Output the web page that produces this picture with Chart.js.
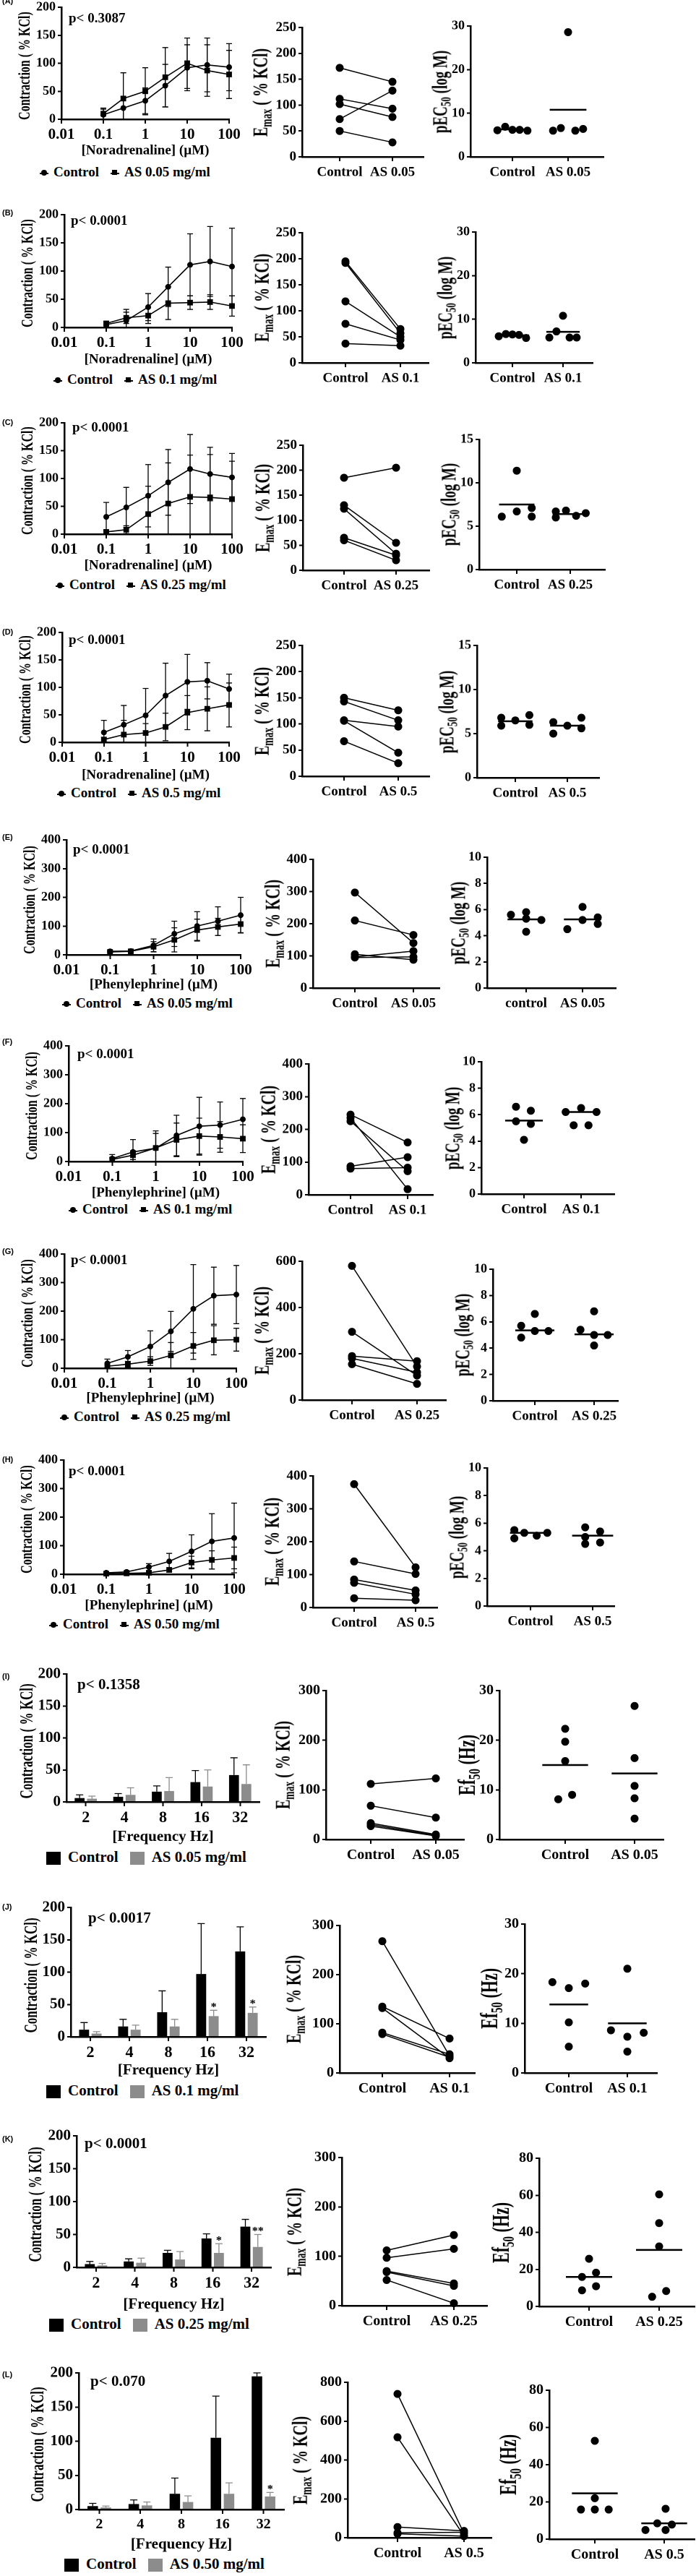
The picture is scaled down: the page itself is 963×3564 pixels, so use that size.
<!DOCTYPE html>
<html>
<head>
<meta charset="utf-8">
<title>Contraction, Emax and pEC50 / Ef50 panels</title>
<script src="https://cdn.jsdelivr.net/npm/chart.js@4.4.1/dist/chart.umd.min.js"></script>
<style>
  html, body { margin: 0; padding: 0; background: #fff; }
  #fig { position: relative; width: 963px; height: 3564px; overflow: hidden;
         font-family: "Liberation Serif", "Times New Roman", serif; font-weight: bold; color: #000; }
  .pan { position: absolute; }
  .txt { position: absolute; white-space: nowrap; line-height: 20px; }
  .ytl { position: absolute; white-space: nowrap; line-height: 1;
         transform: translate(-50%, -50%) rotate(-90deg) scale(1, 1.5); }
  .ytl sub { font-size: 0.68em; vertical-align: -0.3em; }
  .tag { position: absolute; font-family: "Liberation Sans", Arial, sans-serif; font-size: 11px; font-weight: bold; line-height: 12px; }
  .mk { display: inline-block; position: relative; width: 12px; height: 2px; background: #000; vertical-align: middle; margin-right: 7px; }
  .mk::after { content: ''; position: absolute; background: #000; left: 2px; top: -4px; width: 8px; height: 8px; }
  .mc::after { border-radius: 50%; }
  .ms::after { left: 2.5px; top: -3.5px; width: 7px; height: 7px; }
  .sw { display: inline-block; width: 20px; height: 18px; vertical-align: middle; margin-right: 10px; }
  .gap { display: inline-block; width: 16px; }
</style>
</head>
<body>
<div id="fig"></div>
<script>
// shared categories
const doses = [0.1, 0.3, 1, 3, 10, 30, 100];
const doseTicks = [0.01, 0.1, 1, 10, 100];
const freqs = ['2', '4', '8', '16', '32'];

// (A) noradrenaline, AS 0.05
const ctrlA = [8, 20, 33, 60, 92, 97, 93];
const ctrlSdA = [10, 20, 23, 38, 41, 48, 42];
const asA = [10, 37, 50, 75, 100, 87, 80];
const asSdA = [10, 46, 42, 53, 45, 46, 43];
const emaxCtrlA = [172, 112, 102, 73, 50];
const emaxAsA = [145, 93, 77, 128, 28];
const pecCtrlA = [6.1, 6.9, 6.2, 6.2, 6.0];
const pecAsA = [6.0, 6.6, 28.6, 6.0, 6.4];
const pecMeanA = [6.3, 10.8];

// (B) noradrenaline, AS 0.1
const ctrlB = [5, 12, 36, 72, 111, 117, 108];
const ctrlSdB = [4, 20, 24, 35, 55, 62, 68];
const asB = [7, 17, 21, 43, 44, 45, 38];
const asSdB = [4, 10, 14, 29, 12, 13, 18];
const emaxCtrlB = [195, 192, 118, 75, 37];
const emaxAsB = [65, 57, 50, 44, 33];
const pecCtrlB = [6.1, 6.6, 6.5, 6.4, 5.7];
const pecAsB = [5.8, 7.2, 10.8, 5.8, 5.8];
const pecMeanB = [6.3, 7.1];

// (C) noradrenaline, AS 0.25
const ctrlC = [31, 48, 69, 93, 117, 108, 102];
const ctrlSdC = [26, 36, 56, 59, 62, 48, 43];
const asC = [4, 8, 36, 55, 67, 66, 63];
const asSdC = [3, 7, 50, 73, 75, 77, 68];
const emaxCtrlC = [185, 130, 123, 65, 60];
const emaxAsC = [205, 55, 33, 30, 20];
const pecCtrlC = [6.1, 11.4, 6.7, 7.1, 6.1];
const pecAsC = [6.0, 6.7, 6.8, 6.2, 6.5];
const pecMeanC = [7.5, 6.4];

// (D) noradrenaline, AS 0.5
const ctrlD = [18, 32, 49, 85, 110, 112, 97];
const ctrlSdD = [22, 35, 49, 59, 50, 33, 27];
const asD = [5, 14, 17, 28, 54, 61, 68];
const asSdD = [4, 26, 17, 25, 31, 40, 40];
const emaxCtrlD = [150, 143, 107, 106, 67];
const emaxAsD = [126, 107, 95, 45, 25];
const pecCtrlD = [5.9, 6.8, 6.5, 7.1, 6.0];
const pecAsD = [5.0, 6.3, 5.9, 6.8, 5.6];
const pecMeanD = [6.4, 5.9];

// (E) phenylephrine, AS 0.05
const ctrlE = [12, 13, 33, 73, 100, 117, 138];
const ctrlSdE = [4, 5, 22, 44, 50, 50, 62];
const asE = [10, 12, 28, 52, 86, 97, 107];
const asSdE = [3, 4, 18, 42, 38, 30, 30];
const emaxCtrlE = [297, 210, 105, 97, 95];
const emaxAsE = [140, 165, 88, 115, 97];
const pecCtrlE = [5.6, 5.8, 5.3, 4.3, 5.2];
const pecAsE = [4.5, 6.2, 5.2, 5.4, 4.9];
const pecMeanE = [5.25, 5.25];

// (F) phenylephrine, AS 0.1
const ctrlF = [10, 33, 46, 90, 122, 126, 146];
const ctrlSdF = [14, 43, 60, 70, 100, 80, 72];
const asF = [7, 22, 47, 75, 88, 85, 79];
const asSdF = [6, 15, 50, 58, 62, 53, 48];
const emaxCtrlF = [245, 235, 225, 87, 80];
const emaxAsF = [160, 17, 72, 115, 83];
const pecCtrlF = [6.6, 5.5, 4.1, 6.3, 5.3];
const pecAsF = [6.2, 5.2, 6.5, 5.2, 6.2];
const pecMeanF = [5.55, 6.2];

// (G) phenylephrine, AS 0.25
const ctrlG = [17, 40, 76, 129, 208, 254, 258];
const ctrlSdG = [15, 22, 55, 70, 155, 100, 102];
const asG = [7, 14, 25, 45, 78, 98, 100];
const asSdG = [5, 10, 15, 45, 47, 51, 40];
const emaxCtrlG = [580, 295, 190, 180, 155];
const emaxAsG = [145, 106, 168, 120, 70];
const pecCtrlG = [5.7, 4.8, 6.6, 5.3, 5.3];
const pecAsG = [5.4, 6.8, 5.0, 4.2, 5.0];
const pecMeanG = [5.35, 5.05];

// (H) phenylephrine, AS 0.5
const ctrlH = [5, 8, 25, 45, 80, 115, 127];
const ctrlSdH = [3, 5, 12, 28, 58, 97, 122];
const asH = [2, 3, 5, 15, 41, 50, 57];
const asSdH = [2, 2, 3, 8, 22, 32, 38];
const emaxCtrlH = [375, 140, 85, 75, 28];
const emaxAsH = [122, 102, 52, 40, 22];
const pecCtrlH = [5.5, 4.9, 5.3, 5.1, 5.3];
const pecAsH = [5.7, 5.0, 4.5, 5.4, 4.6];
const pecMeanH = [5.3, 5.1];

// (I) electrical field stimulation, AS 0.05
const barCtrlI = [6, 8, 16, 31, 42];
const barCtrlSdI = [5, 5, 9, 18, 27];
const barAsI = [5, 11, 17, 24, 28];
const barAsSdI = [4, 11, 21, 26, 30];
const emaxCtrlI = [112, 68, 33, 30, 27];
const emaxAsI = [123, 44, 10, 8, 7];
const efCtrlI = [8.1, 22.3, 19.7, 15.8, 9.0];
const efAsI = [26.9, 16.4, 10.8, 8.3, 4.2];
const efMeanI = [15.0, 13.3];

// (J) AS 0.1
const barCtrlJ = [11, 16, 38, 97, 132];
const barCtrlSdJ = [11, 11, 33, 78, 38];
const barAsJ = [5, 11, 16, 32, 37];
const barAsSdJ = [3, 7, 11, 9, 9];
const starsJ = ['', '', '', '*', '*'];
const emaxCtrlJ = [268, 135, 132, 82, 79];
const emaxAsJ = [35, 70, 30, 38, 32];
const efCtrlJ = [18.3, 17.1, 10.2, 5.3, 18.0];
const efAsJ = [8.6, 21.0, 7.3, 4.3, 8.1];
const efMeanJ = [13.8, 10.0];

// (K) AS 0.25
const barCtrlK = [5, 9, 22, 44, 62];
const barCtrlSdK = [4, 4, 4, 7, 11];
const barAsK = [3, 7, 12, 22, 31];
const barAsSdK = [3, 7, 12, 14, 19];
const starsK = ['', '', '', '*', '**'];
const emaxCtrlK = [112, 97, 70, 68, 52];
const emaxAsK = [143, 115, 45, 40, 5];
const efCtrlK = [15.9, 8.7, 25.7, 18.2, 10.9];
const efAsK = [5.2, 60.5, 45.0, 32.4, 8.3];
const efMeanK = [15.9, 30.5];

// (L) AS 0.5
const barCtrlL = [5, 8, 23, 105, 195];
const barCtrlSdL = [4, 6, 23, 61, 5];
const barAsL = [3, 6, 11, 23, 19];
const barAsSdL = [2, 5, 9, 16, 6];
const starsL = ['', '', '', '', '*'];
const emaxCtrlL = [740, 517, 55, 25, 20];
const emaxAsL = [22, 10, 35, 28, 8];
const efCtrlL = [15.9, 52.8, 22.0, 15.9, 15.9];
const efAsL = [4.9, 8.5, 16.3, 4.9, 7.8];
const efMeanL = [24.6, 8.5];

Chart.defaults.font.family = '"Liberation Serif", "Times New Roman", serif';
Chart.defaults.font.weight = 'bold';
Chart.defaults.color = '#000';

// whiskers (and significance stars) drawn from each dataset's `errors` list
const errorBars = {
  id: 'errorBars',
  afterDatasetsDraw(chart) {
    const ctx = chart.ctx;
    const ys = chart.scales.y;
    chart.data.datasets.forEach((ds, i) => {
      if (!ds.errors) return;
      const meta = chart.getDatasetMeta(i);
      ctx.save();
      ctx.strokeStyle = ds.errorColor || '#000';
      ctx.lineWidth = 1.3;
      meta.data.forEach((el, j) => {
        const raw = ds.data[j];
        const v = typeof raw === 'object' ? raw.y : raw;
        const e = ds.errors[j];
        const x = el.x;
        const hi = ys.getPixelForValue(v + e);
        const lo = ds.upOnly ? el.y : ys.getPixelForValue(Math.max(v - e, 0));
        const cap = ds.cap || 4;
        ctx.beginPath();
        ctx.moveTo(x, hi); ctx.lineTo(x, lo);
        ctx.moveTo(x - cap, hi); ctx.lineTo(x + cap, hi);
        if (!ds.upOnly && v - e > 0) { ctx.moveTo(x - cap, lo); ctx.lineTo(x + cap, lo); }
        ctx.stroke();
        if (ds.marks && ds.marks[j]) {
          ctx.fillStyle = '#000';
          ctx.font = 'bold 16px "Liberation Serif"';
          ctx.textAlign = 'center';
          ctx.textBaseline = 'bottom';
          ctx.fillText(ds.marks[j], x, hi + 4);
        }
      });
      ctx.restore();
    });
  }
};
Chart.register(errorBars);

const fig = document.getElementById('fig');
const axisLine = { color: '#000', width: 2.5 };
const P5 = [-0.27, -0.13, 0, 0.13, 0.27];
const P3 = [-0.27, -0.27, 0, 0.27, 0.27];

function tickGrid(len) {
  return { drawOnChartArea: false, drawTicks: true, tickLength: len, color: '#000', lineWidth: 2 };
}
function fitX(h) {
  return (s) => { s.height = h; s.paddingLeft = 0; s.paddingRight = 0; };
}
function fitY(w) {
  return (s) => { s.width = w; s.paddingTop = 0; s.paddingBottom = 0; };
}

// canvas whose chart area lands exactly on the axis box g (page pixels)
function addCanvas(g, yW, padT, padR, xH) {
  const w = Math.round(g.ex - g.ax + yW + padR);
  const h = Math.round(g.zero - g.top + padT + xH);
  const box = document.createElement('div');
  box.className = 'pan';
  box.style.left = (g.ax - yW) + 'px';
  box.style.top = (g.top - padT) + 'px';
  const cv = document.createElement('canvas');
  cv.width = w;
  cv.height = h;
  box.appendChild(cv);
  fig.appendChild(box);
  return cv;
}

function baseOptions(scales, padT, padR) {
  return {
    responsive: false,
    animation: false,
    devicePixelRatio: 2,
    events: [],
    layout: { padding: { top: padT, right: padR, bottom: 0, left: 0 } },
    plugins: { legend: { display: false }, tooltip: { enabled: false } },
    scales
  };
}

function yScale(max, step, yW, size) {
  return {
    min: 0,
    max,
    ticks: { stepSize: step, padding: 3, font: { size } },
    grid: tickGrid(5),
    border: axisLine,
    afterFit: fitY(yW)
  };
}

function pairX(g, labels, size) {
  const u = g.c2 - g.c1;
  return {
    type: 'linear',
    min: 1 - (g.c1 - g.ax) / u,
    max: 2 + (g.ex - g.c2) / u,
    afterBuildTicks(s) { s.ticks = [{ value: 1 }, { value: 2 }]; },
    ticks: { callback: (v) => labels[Math.round(v) - 1], maxRotation: 0, autoSkip: false, padding: 4, font: { size } },
    grid: tickGrid(6),
    border: axisLine,
    afterFit: fitX(44)
  };
}

function text(html, x, y, size, cls) {
  const d = document.createElement('div');
  d.className = cls || 'txt';
  d.innerHTML = html;
  d.style.left = x + 'px';
  d.style.top = (y - 10) + 'px';
  d.style.fontSize = size + 'px';
  fig.appendChild(d);
  return d;
}

function yTitle(html, cx, cy, size) {
  const d = document.createElement('div');
  d.className = 'ytl';
  d.innerHTML = html;
  d.style.left = cx + 'px';
  d.style.top = cy + 'px';
  d.style.fontSize = size + 'px';
  fig.appendChild(d);
}

function pairPanel(g, cats, ctrl, as, fs) {
  const cv = addCanvas(g, 46, 12, 14, 44);
  const datasets = ctrl.map((c, i) => ({
    data: [{ x: 1, y: c }, { x: 2, y: as[i] }],
    showLine: true,
    borderColor: '#000',
    borderWidth: 1.5,
    pointRadius: 5.5,
    pointBackgroundColor: '#000',
    pointBorderWidth: 0,
    clip: false
  }));
  new Chart(cv, {
    type: 'scatter',
    data: { datasets },
    options: baseOptions({ x: pairX(g, cats, fs.cat), y: yScale(g.max, g.step, 46, fs.y) }, 12, 14)
  });
  yTitle('E<sub>max</sub> ( % KCl)', g.ax + g.tdx, (g.top + g.zero) / 2, 20);
}

function dotPanel(g, cats, ctrl, as, means, jitC, jitA, fs, titleHtml, titleSize) {
  const cv = addCanvas(g, 40, 12, 14, 44);
  const dots = (vals, c, jit) => ({
    data: vals.map((v, i) => ({ x: c + jit[i], y: v })),
    pointRadius: 5.5,
    pointBackgroundColor: '#000',
    pointBorderWidth: 0,
    clip: false
  });
  const meanLine = (c, m) => ({
    data: [{ x: c - 0.33, y: m }, { x: c + 0.33, y: m }],
    showLine: true,
    borderColor: '#000',
    borderWidth: 2.5,
    pointRadius: 0,
    clip: false
  });
  new Chart(cv, {
    type: 'scatter',
    data: { datasets: [dots(ctrl, 1, jitC), dots(as, 2, jitA), meanLine(1, means[0]), meanLine(2, means[1])] },
    options: baseOptions({ x: pairX(g, cats, fs.cat), y: yScale(g.max, g.step, 40, fs.y) }, 12, 14)
  });
  yTitle(titleHtml, g.ax + g.tdx, (g.top + g.zero) / 2, titleSize);
}

function doseRow(r) {
  const g = r.dose;
  const xH = g.tOff + 11;
  const cv = addCanvas(g, 46, 12, 22, xH);
  const series = (vals, sd, style) => ({
    data: doses.map((d, i) => ({ x: d, y: vals[i] })),
    errors: sd,
    cap: 4,
    borderColor: '#000',
    borderWidth: 1.6,
    pointStyle: style,
    pointRadius: style === 'rect' ? 5.5 : 4,
    pointBackgroundColor: '#000',
    pointBorderWidth: 0,
    tension: 0,
    clip: false
  });
  new Chart(cv, {
    type: 'line',
    data: { datasets: [series(r.ctrl, r.ctrlSd, 'circle'), series(r.as, r.asSd, 'rect')] },
    options: baseOptions({
      x: {
        type: 'logarithmic',
        min: 0.01,
        max: 100,
        afterBuildTicks(s) { s.ticks = doseTicks.map((v) => ({ value: v })); },
        ticks: { callback: (v) => String(v), maxRotation: 0, autoSkip: false, padding: 3, font: { size: 21 } },
        grid: tickGrid(6),
        border: axisLine,
        title: { display: true, text: r.agonist, font: { size: 19 }, padding: 0 },
        afterFit: fitX(xH)
      },
      y: yScale(r.max, r.max / 4, 46, 18)
    }, 12, 22)
  });
  yTitle('Contraction ( % KCl)', g.ax - 52, (g.top + g.zero) / 2 + 3, 16);
  text(r.tag, 3, r.tagY, 11, 'tag');
  text(r.p, r.pAt[0], r.pAt[1], 19);
  text('<span class="mk mc"></span>Control<span class="gap"></span><span class="mk ms"></span>' + r.asLabel,
       r.legendAt[0], r.legendAt[1], 19);
  const fs = { cat: 19, y: 19 };
  pairPanel(r.emax, r.cats, r.emaxCtrl, r.emaxAs, fs);
  dotPanel(r.pec, r.pecCats || r.cats, r.pecCtrl, r.pecAs, r.pecMean, r.jitC, r.jitA, { cat: 19, y: 18 },
           'pEC<sub>50</sub> (log M)', 19);
}

function barRow(r) {
  const g = r.bar;
  const xH = g.tOff + 14;
  const cv = addCanvas(g, 50, 12, 10, xH);
  new Chart(cv, {
    type: 'bar',
    data: {
      labels: freqs,
      datasets: [
        { data: r.ctrl, errors: r.ctrlSd, upOnly: true, cap: 5, errorColor: '#000',
          backgroundColor: '#000', barPercentage: 0.8, categoryPercentage: 0.64 },
        { data: r.as, errors: r.asSd, upOnly: true, cap: 5, errorColor: '#8c8c8c', marks: r.stars,
          backgroundColor: '#8c8c8c', barPercentage: 0.8, categoryPercentage: 0.64 }
      ]
    },
    options: baseOptions({
      x: {
        type: 'category',
        offset: true,
        grid: Object.assign(tickGrid(6), { offset: false }),
        border: axisLine,
        ticks: { maxRotation: 0, autoSkip: false, padding: 3, font: { size: r.catSize } },
        title: { display: true, text: '[Frequency Hz]', font: { size: 21 }, padding: 0 },
        afterFit: fitX(xH)
      },
      y: yScale(200, 50, 50, 21)
    }, 12, 10)
  });
  yTitle('Contraction ( % KCl)', g.ax + r.tdx, (g.top + g.zero) / 2 + 4, 17);
  text(r.tag, 3, r.tagY, 11, 'tag');
  text(r.p, r.pAt[0], r.pAt[1], 21);
  text('<span class="sw" style="background:#000"></span>Control<span class="gap"></span>' +
       '<span class="sw" style="background:#8c8c8c"></span>' + r.asLabel, r.legendAt[0], r.legendAt[1], 21);
  const fs = { cat: 20, y: 20 };
  pairPanel(r.emax, r.cats, r.emaxCtrl, r.emaxAs, fs);
  dotPanel(r.ef, r.cats, r.efCtrl, r.efAs, r.efMean, r.jitC, r.jitA, fs, 'Ef<sub>50</sub> (Hz)', 22);
}

const NA = '[Noradrenaline] (\u00b5M)';
const PE = '[Phenylephrine] (\u00b5M)';

doseRow({ tag: '(A)', tagY: 5, p: 'p< 0.3087', pAt: [95, 25], agonist: NA, max: 200,
  ctrl: ctrlA, ctrlSd: ctrlSdA, as: asA, asSd: asSdA,
  dose: { ax: 85, ex: 317, top: 10, zero: 165, tOff: 44 }, legendAt: [55, 238], asLabel: 'AS 0.05 mg/ml',
  cats: ['Control', 'AS 0.05'],
  emax: { ax: 418, ex: 586, top: 38, zero: 217, c1: 470, c2: 543, max: 250, step: 50, tdx: -56 },
  emaxCtrl: emaxCtrlA, emaxAs: emaxAsA,
  pec: { ax: 651, ex: 835, top: 36, zero: 217, c1: 709, c2: 786, max: 30, step: 10, tdx: -40 },
  pecCtrl: pecCtrlA, pecAs: pecAsA, pecMean: pecMeanA, jitC: P5, jitA: P5 });

doseRow({ tag: '(B)', tagY: 298, p: 'p< 0.0001', pAt: [98, 305], agonist: NA, max: 200,
  ctrl: ctrlB, ctrlSd: ctrlSdB, as: asB, asSd: asSdB,
  dose: { ax: 89, ex: 321, top: 297, zero: 453, tOff: 45 }, legendAt: [74, 525], asLabel: 'AS 0.1 mg/ml',
  cats: ['Control', 'AS 0.1'],
  emax: { ax: 418, ex: 593, top: 322, zero: 502, c1: 478, c2: 554, max: 250, step: 50, tdx: -54 },
  emaxCtrl: emaxCtrlB, emaxAs: emaxAsB,
  pec: { ax: 658, ex: 820, top: 321, zero: 502, c1: 709, c2: 779, max: 30, step: 10, tdx: -40 },
  pecCtrl: pecCtrlB, pecAs: pecAsB, pecMean: pecMeanB, jitC: P5, jitA: P5 });

doseRow({ tag: '(C)', tagY: 588, p: 'p< 0.0001', pAt: [100, 591], agonist: NA, max: 200,
  ctrl: ctrlC, ctrlSd: ctrlSdC, as: asC, asSd: asSdC,
  dose: { ax: 89, ex: 321, top: 585, zero: 739, tOff: 44 }, legendAt: [77, 809], asLabel: 'AS 0.25 mg/ml',
  cats: ['Control', 'AS 0.25'],
  emax: { ax: 419, ex: 594, top: 616, zero: 789, c1: 476, c2: 548, max: 250, step: 50, tdx: -54 },
  emaxCtrl: emaxCtrlC, emaxAs: emaxAsC,
  pec: { ax: 663, ex: 837, top: 608, zero: 788, c1: 715, c2: 789, max: 15, step: 5, tdx: -40 },
  pecCtrl: pecCtrlC, pecAs: pecAsC, pecMean: pecMeanC,
  jitC: [-0.28, 0, 0, 0.28, 0.28], jitA: [-0.27, -0.27, -0.08, 0.11, 0.29] });

doseRow({ tag: '(D)', tagY: 878, p: 'p< 0.0001', pAt: [95, 885], agonist: NA, max: 200,
  ctrl: ctrlD, ctrlSd: ctrlSdD, as: asD, asSd: asSdD,
  dose: { ax: 86, ex: 317, top: 875, zero: 1027, tOff: 46 }, legendAt: [79, 1097], asLabel: 'AS 0.5 mg/ml',
  cats: ['Control', 'AS 0.5'],
  emax: { ax: 418, ex: 594, top: 893, zero: 1074, c1: 476, c2: 551, max: 250, step: 50, tdx: -54 },
  emaxCtrl: emaxCtrlD, emaxAs: emaxAsD,
  pec: { ax: 660, ex: 829, top: 893, zero: 1076, c1: 713, c2: 785, max: 15, step: 5, tdx: -40 },
  pecCtrl: pecCtrlD, pecAs: pecAsD, pecMean: pecMeanD, jitC: P3, jitA: P3 });

doseRow({ tag: '(E)', tagY: 1162, p: 'p< 0.0001', pAt: [101, 1175], agonist: PE, max: 400,
  ctrl: ctrlE, ctrlSd: ctrlSdE, as: asE, asSd: asSdE,
  dose: { ax: 92, ex: 333, top: 1162, zero: 1321, tOff: 42 }, legendAt: [86, 1388], asLabel: 'AS 0.05 mg/ml',
  cats: ['Control', 'AS 0.05'], pecCats: ['control', 'AS 0.05'],
  emax: { ax: 433, ex: 608, top: 1189, zero: 1367, c1: 491, c2: 572, max: 400, step: 100, tdx: -54 },
  emaxCtrl: emaxCtrlE, emaxAs: emaxAsE,
  pec: { ax: 674, ex: 852, top: 1186, zero: 1367, c1: 728, c2: 806, max: 10, step: 2, tdx: -38 },
  pecCtrl: pecCtrlE, pecAs: pecAsE, pecMean: pecMeanE,
  jitC: [-0.27, 0, 0, 0, 0.27], jitA: [-0.27, 0, 0, 0.27, 0.27] });

doseRow({ tag: '(F)', tagY: 1445, p: 'p< 0.0001', pAt: [107, 1458], agonist: PE, max: 400,
  ctrl: ctrlF, ctrlSd: ctrlSdF, as: asF, asSd: asSdF,
  dose: { ax: 95, ex: 336, top: 1447, zero: 1607, tOff: 44 }, legendAt: [95, 1673], asLabel: 'AS 0.1 mg/ml',
  cats: ['Control', 'AS 0.1'],
  emax: { ax: 427, ex: 599, top: 1472, zero: 1653, c1: 485, c2: 564, max: 400, step: 100, tdx: -54 },
  emaxCtrl: emaxCtrlF, emaxAs: emaxAsF,
  pec: { ax: 666, ex: 850, top: 1469, zero: 1652, c1: 725, c2: 804, max: 10, step: 2, tdx: -38 },
  pecCtrl: pecCtrlF, pecAs: pecAsF, pecMean: pecMeanF,
  jitC: [-0.14, -0.14, 0, 0.12, 0.12], jitA: P5 });

doseRow({ tag: '(G)', tagY: 1735, p: 'p< 0.0001', pAt: [98, 1743], agonist: PE, max: 400,
  ctrl: ctrlG, ctrlSd: ctrlSdG, as: asG, asSd: asSdG,
  dose: { ax: 89, ex: 327, top: 1735, zero: 1893, tOff: 42 }, legendAt: [83, 1960], asLabel: 'AS 0.25 mg/ml',
  cats: ['Control', 'AS 0.25'],
  emax: { ax: 418, ex: 617, top: 1745, zero: 1937, c1: 487, c2: 577, max: 600, step: 200, tdx: -54 },
  emaxCtrl: emaxCtrlG, emaxAs: emaxAsG,
  pec: { ax: 682, ex: 855, top: 1756, zero: 1938, c1: 740, c2: 822, max: 10, step: 2, tdx: -40 },
  pecCtrl: pecCtrlG, pecAs: pecAsG, pecMean: pecMeanG,
  jitC: [-0.23, -0.23, 0, 0, 0.23], jitA: [-0.23, 0, 0, 0, 0.23] });

doseRow({ tag: '(H)', tagY: 2023, p: 'p< 0.0001', pAt: [95, 2035], agonist: PE, max: 400,
  ctrl: ctrlH, ctrlSd: ctrlSdH, as: asH, asSd: asSdH,
  dose: { ax: 88, ex: 324, top: 2020, zero: 2178, tOff: 44 }, legendAt: [68, 2247], asLabel: 'AS 0.50 mg/ml',
  cats: ['Control', 'AS 0.5'],
  emax: { ax: 433, ex: 605, top: 2042, zero: 2224, c1: 490, c2: 575, max: 400, step: 100, tdx: -55 },
  emaxCtrl: emaxCtrlH, emaxAs: emaxAsH,
  pec: { ax: 674, ex: 850, top: 2031, zero: 2222, c1: 734, c2: 820, max: 10, step: 2, tdx: -40 },
  pecCtrl: pecCtrlH, pecAs: pecAsH, pecMean: pecMeanH,
  jitC: [-0.26, -0.26, -0.1, 0.1, 0.27], jitA: [-0.12, -0.12, -0.12, 0.12, 0.12] });

barRow({ tag: '(I)', tagY: 2323, p: 'p< 0.1358', pAt: [107, 2330], catSize: 22, tdx: -55,
  ctrl: barCtrlI, ctrlSd: barCtrlSdI, as: barAsI, asSd: barAsSdI, stars: null,
  bar: { ax: 92, ex: 359, top: 2316, zero: 2493, tOff: 47 }, legendAt: [64, 2569], asLabel: 'AS 0.05 mg/ml',
  cats: ['Control', 'AS 0.05'],
  emax: { ax: 451, ex: 642, top: 2339, zero: 2545, c1: 513, c2: 603, max: 300, step: 100, tdx: -58 },
  emaxCtrl: emaxCtrlI, emaxAs: emaxAsI,
  ef: { ax: 691, ex: 918, top: 2339, zero: 2545, c1: 782, c2: 878, max: 30, step: 10, tdx: -42 },
  efCtrl: efCtrlI, efAs: efAsI, efMean: efMeanI, jitC: [-0.1, 0, 0, 0, 0.1], jitA: [0, 0, 0, 0, 0] });

barRow({ tag: '(J)', tagY: 2642, p: 'p< 0.0017', pAt: [122, 2653], catSize: 22, tdx: -55,
  ctrl: barCtrlJ, ctrlSd: barCtrlSdJ, as: barAsJ, asSd: barAsSdJ, stars: starsJ,
  bar: { ax: 98, ex: 368, top: 2639, zero: 2818, tOff: 45 }, legendAt: [64, 2892], asLabel: 'AS 0.1 mg/ml',
  cats: ['Control', 'AS 0.1'],
  emax: { ax: 470, ex: 657, top: 2664, zero: 2868, c1: 529, c2: 622, max: 300, step: 100, tdx: -62 },
  emaxCtrl: emaxCtrlJ, emaxAs: emaxAsJ,
  ef: { ax: 726, ex: 909, top: 2662, zero: 2868, c1: 787, c2: 868, max: 30, step: 10, tdx: -46 },
  efCtrl: efCtrlJ, efAs: efAsJ, efMean: efMeanJ, jitC: [-0.28, 0, 0, 0, 0.28], jitA: [-0.28, 0, 0, 0, 0.28] });

barRow({ tag: '(K)', tagY: 2963, p: 'p< 0.0001', pAt: [117, 2965], catSize: 22, tdx: -57,
  ctrl: barCtrlK, ctrlSd: barCtrlSdK, as: barAsK, asSd: barAsSdK, stars: starsK,
  bar: { ax: 106, ex: 375, top: 2955, zero: 3137, tOff: 50 }, legendAt: [68, 3215], asLabel: 'AS 0.25 mg/ml',
  cats: ['Control', 'AS 0.25'],
  emax: { ax: 473, ex: 674, top: 2985, zero: 3190, c1: 535, c2: 628, max: 300, step: 100, tdx: -64 },
  emaxCtrl: emaxCtrlK, emaxAs: emaxAsK,
  ef: { ax: 746, ex: 961, top: 2986, zero: 3191, c1: 815, c2: 912, max: 80, step: 20, tdx: -50 },
  efCtrl: efCtrlK, efAs: efAsK, efMean: efMeanK, jitC: [-0.1, -0.1, 0, 0.1, 0.1], jitA: [-0.1, 0, 0, 0, 0.1] });

barRow({ tag: '(L)', tagY: 3289, p: 'p< 0.070', pAt: [125, 3294], catSize: 20, tdx: -57,
  ctrl: barCtrlL, ctrlSd: barCtrlSdL, as: barAsL, asSd: barAsSdL, stars: starsL,
  bar: { ax: 109, ex: 393, top: 3283, zero: 3472, tOff: 47 }, legendAt: [89, 3547], asLabel: 'AS 0.50 mg/ml',
  cats: ['Control', 'AS 0.5'],
  emax: { ax: 481, ex: 680, top: 3296, zero: 3511, c1: 550, c2: 642, max: 800, step: 200, tdx: -64 },
  emaxCtrl: emaxCtrlL, emaxAs: emaxAsL,
  ef: { ax: 760, ex: 961, top: 3307, zero: 3513, c1: 823, c2: 919, max: 80, step: 20, tdx: -54 },
  efCtrl: efCtrlL, efAs: efAsL, efMean: efMeanL, jitC: [-0.2, 0, 0, 0, 0.2], jitA: [-0.27, -0.1, 0.02, 0.02, 0.11] });
</script>
</body>
</html>
